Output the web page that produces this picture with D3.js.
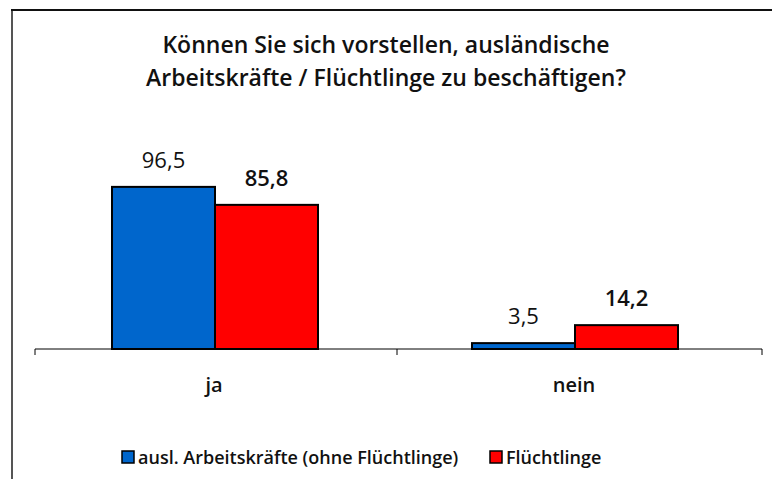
<!DOCTYPE html>
<html>
<head>
<meta charset="utf-8">
<style>
body { margin: 0; background: #fff; }
text { font-family: "Open Sans", "DejaVu Sans", sans-serif; }
</style>
</head>
<body>
<svg width="772" height="479" id="chart"></svg>
<script src="https://cdn.jsdelivr.net/npm/d3@7"></script>
<script>
// data
var categories = ["ja", "nein"];
var seriesNames = ["ausl. Arbeitskräfte (ohne Flüchtlinge)", "Flüchtlinge"];
var auslaender = [96.5, 3.5];
var fluechtlinge = [85.8, 14.2];
var valueLabels = [["96,5", "3,5"], ["85,8", "14,2"]];
var colors = ["#0066cc", "#ff0000"];
var titleLines = ["Können Sie sich vorstellen, ausländische", "Arbeitskräfte / Flüchtlinge zu beschäftigen?"];

var series = [auslaender, fluechtlinge];

var svg = d3.select("#chart");

// outer frame (left + top only visible)
svg.append("line").attr("x1", 12).attr("y1", 10).attr("x2", 12).attr("y2", 479)
  .style("stroke", "#555").style("stroke-width", 2);
svg.append("line").attr("x1", 11).attr("y1", 10).attr("x2", 772).attr("y2", 10)
  .style("stroke", "#111").style("stroke-width", 2);

// title
svg.append("g").selectAll("text")
  .data(titleLines)
  .enter().append("text")
  .attr("x", 386)
  .attr("y", function(d, i) { return 53 + i * 33; })
  .attr("text-anchor", "middle")
  .style("font-size", "23px")
  .style("font-weight", "600")
  .style("fill", "#111")
  .text(function(d) { return d; });

var x0 = d3.scaleBand().domain(categories).range([35, 755]);
var x1 = d3.scaleBand().domain([0, 1]).range([0, 206]);
var y = d3.scaleLinear().domain([0, 100]).range([349, 181]);

// bars
var groups = svg.append("g").selectAll("g")
  .data(categories)
  .enter().append("g")
  .attr("transform", function(d) { return "translate(" + (x0(d) + x0.bandwidth() / 2 - 103) + ",0)"; });

groups.selectAll("rect")
  .data(function(d, ci) { return series.map(function(s, si) { return {si: si, ci: ci, v: s[ci]}; }); })
  .enter().append("rect")
  .attr("x", function(d) { return x1(d.si); })
  .attr("y", function(d) { return y(d.v); })
  .attr("width", x1.bandwidth())
  .attr("height", function(d) { return y(0) - y(d.v); })
  .style("fill", function(d) { return colors[d.si]; })
  .style("stroke", "#000")
  .style("stroke-width", 2);

groups.selectAll("text")
  .data(function(d, ci) { return series.map(function(s, si) { return {si: si, ci: ci, v: s[ci]}; }); })
  .enter().append("text")
  .attr("x", function(d) { return x1(d.si) + x1.bandwidth() / 2; })
  .attr("y", function(d) { return y(d.v) - 19; })
  .attr("text-anchor", "middle")
  .style("font-size", "22px")
  .style("font-weight", function(d) { return d.si == 1 ? "600" : "400"; })
  .style("fill", "#111")
  .text(function(d) { return valueLabels[d.si][d.ci]; });

// axis
var axis = svg.append("g").attr("transform", "translate(0,349)");
axis.append("line").attr("x1", 35).attr("x2", 762).attr("y1", 0).attr("y2", 0).attr("stroke", "#000");
axis.append("g").selectAll("line")
  .data([35, 397, 762])
  .enter().append("line")
  .attr("x1", function(d) { return d; }).attr("x2", function(d) { return d; })
  .attr("y1", 0).attr("y2", 6)
  .attr("stroke", "#000");
axis.selectAll(".cat")
  .data(categories)
  .enter().append("text")
  .attr("class", "cat")
  .attr("x", function(d) { return x0(d) + x0.bandwidth() / 2 - 1; })
  .attr("y", 43)
  .attr("text-anchor", "middle")
  .style("font-size", "20px")
  .style("font-weight", "600")
  .style("fill", "#111")
  .text(function(d) { return d; });

// legend
var legendX = [122, 490];
var legend = svg.append("g").selectAll("g")
  .data(seriesNames)
  .enter().append("g")
  .attr("transform", function(d, i) { return "translate(" + legendX[i] + ",451)"; });
legend.append("rect")
  .attr("width", 12).attr("height", 12)
  .style("fill", function(d, i) { return colors[i]; })
  .style("stroke", "#000").style("stroke-width", 1.5);
legend.append("text")
  .attr("x", 16).attr("y", 13)
  .style("font-size", "18px")
  .style("font-weight", "600")
  .style("fill", "#111")
  .text(function(d) { return d; });
</script>
</body>
</html>
